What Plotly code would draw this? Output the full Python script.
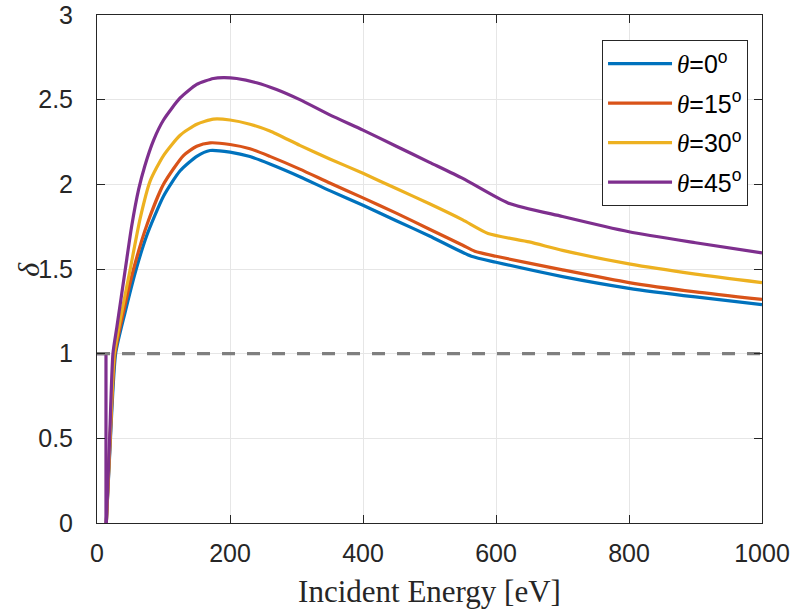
import plotly.graph_objects as go

# ---- data ----
E_0 = [14, 19, 28, 42, 59, 75, 100, 125, 150, 170, 200, 230, 260, 305, 350, 400, 450, 500, 563, 600, 700, 800, 900, 1000]
d_0 = [0, 0.4, 1.0, 1.24, 1.5, 1.70, 1.93, 2.08, 2.165, 2.20, 2.19, 2.164, 2.12, 2.045, 1.963, 1.876, 1.785, 1.695, 1.575, 1.54, 1.455, 1.386, 1.335, 1.29]

E_15 = [14, 19, 27, 40, 55, 75, 100, 130, 150, 170, 200, 230, 260, 305, 350, 400, 450, 500, 550, 568, 600, 700, 800, 900, 1000]
d_15 = [0, 0.42, 1.0, 1.25, 1.5, 1.76, 2.0, 2.17, 2.225, 2.245, 2.235, 2.21, 2.165, 2.09, 2.008, 1.92, 1.83, 1.735, 1.64, 1.605, 1.575, 1.495, 1.42, 1.365, 1.32]

E_30 = [14, 19, 26, 35, 50, 65, 80, 100, 125, 150, 175, 200, 230, 260, 305, 350, 400, 450, 500, 550, 588, 650, 700, 800, 900, 1000]
d_30 = [0, 0.45, 1.0, 1.2, 1.5, 1.8, 2.02, 2.17, 2.29, 2.355, 2.385, 2.38, 2.355, 2.315, 2.23, 2.15, 2.065, 1.975, 1.885, 1.79, 1.71, 1.66, 1.61, 1.53, 1.47, 1.42]

E_45 = [14, 19, 24, 30, 42.6, 52, 62.6, 72, 85, 100, 125, 150, 175, 190, 210, 240, 270, 305, 350, 400, 450, 500, 550, 618, 700, 800, 900, 1000]
d_45 = [0, 0.5, 1.0, 1.16, 1.5, 1.75, 1.97, 2.11, 2.26, 2.38, 2.51, 2.59, 2.625, 2.63, 2.625, 2.60, 2.56, 2.50, 2.41, 2.32, 2.225, 2.13, 2.035, 1.89, 1.81, 1.72, 1.655, 1.595]

# purple low-energy step (delta = 1 below threshold, then drop to 0)
E_45_step = [0, 13.5, 13.5]
d_45_step = [1, 1, 0]

series_names = ["θ=0", "θ=15", "θ=30", "θ=45"]
series_E = [E_0, E_15, E_30, E_45]
series_d = [d_0, d_15, d_30, d_45]
colors = ["#0072BD", "#D95319", "#EDB120", "#7E2F8E"]

ref_E = [0, 1000]
ref_d = [1, 1]

x_ticks = [0, 200, 400, 600, 800, 1000]
y_ticks = [0, 0.5, 1, 1.5, 2, 2.5, 3]
y_ticklabels = ["0", "0.5", "1", "1.5", "2", "2.5", "3"]


def legend_label(name):
    sym, val = name.split("=")
    return ("<span style=\"font-family:'Liberation Serif','Times New Roman';font-style:italic\">"
            + sym + "</span>=" + val + "<sup>o</sup>")


fig = go.Figure()
for i, (name, E, d, c) in enumerate(zip(series_names, series_E, series_d, colors)):
    fig.add_trace(go.Scatter(x=E, y=d, mode="lines", name=legend_label(name),
                             legendgroup="g%d" % i,
                             line=dict(color=c, width=3.2, shape="spline", smoothing=0.6)))
fig.add_trace(go.Scatter(x=E_45_step, y=d_45_step, mode="lines", showlegend=False,
                         legendgroup="g3", line=dict(color=colors[3], width=3.2)))
fig.add_trace(go.Scatter(x=ref_E, y=ref_d, mode="lines", showlegend=False,
                         legendgroup="ref",
                         line=dict(color="#7f7f7f", width=3.2, dash="13px,12px")))

axis_common = dict(
    showline=True, linecolor="#262626", linewidth=1, mirror="ticks",
    ticks="inside", ticklen=8, tickcolor="#262626", tickwidth=1,
    showgrid=True, gridcolor="#e6e6e6", gridwidth=1, zeroline=False,
    automargin=False,
    tickfont=dict(family="Liberation Sans, Arial", size=25, color="#262626"),
)

fig.update_layout(
    width=795, height=613,
    margin=dict(l=97, r=33, t=15, b=90),
    plot_bgcolor="white", paper_bgcolor="white",
    xaxis=dict(range=[0, 1000], tickvals=x_ticks, ticklabelstandoff=8,
               title=dict(text="Incident Energy [eV]",
                          font=dict(family="Liberation Serif, Times New Roman", size=31, color="#262626"),
                          standoff=14),
               **axis_common),
    yaxis=dict(range=[0, 3], tickvals=y_ticks, ticktext=y_ticklabels, ticklabelstandoff=18,
               **axis_common),
    legend=dict(x=0.979, y=0.951, xanchor="right", yanchor="top",
                bgcolor="white", bordercolor="#262626", borderwidth=1,
                font=dict(family="Liberation Sans, Arial", size=25, color="#000000"),
                itemwidth=64, tracegroupgap=4, traceorder="grouped"),
    annotations=[dict(text="<i>δ</i>", xref="paper", yref="paper",
                      x=-0.104, y=0.5, xanchor="center", yanchor="middle",
                      textangle=-90, showarrow=False,
                      font=dict(family="Liberation Serif, Times New Roman", size=30, color="#262626"))],
    showlegend=True,
)

fig.write_html("out.html")
